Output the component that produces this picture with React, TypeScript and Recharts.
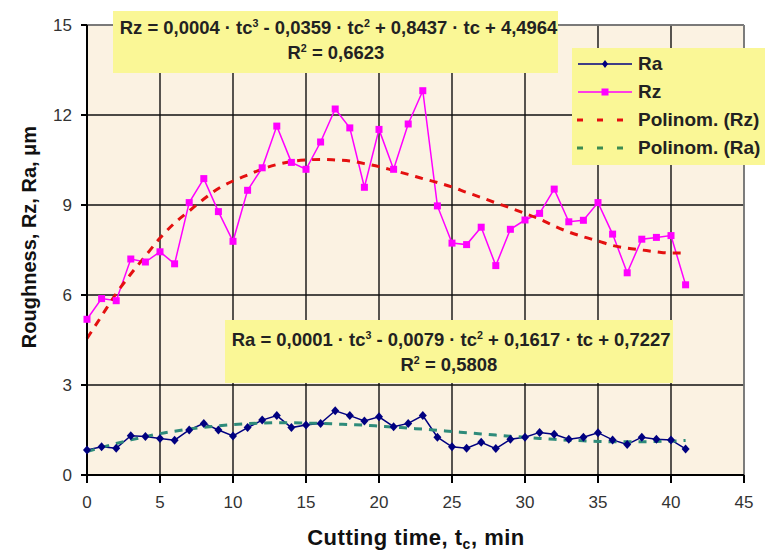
import { ComposedChart, Line, XAxis, YAxis, CartesianGrid, ReferenceLine } from 'recharts';

// cutting time, min
const times = [0,1,2,3,4,5,6,7,8,9,10,11,12,13,14,15,16,17,18,19,20,21,22,23,24,25,26,27,28,29,30,31,32,33,34,35,36,37,38,39,40,41];

const rzValues = [5.19,5.88,5.81,7.2,7.1,7.44,7.04,9.08,9.88,8.78,7.79,9.49,10.24,11.63,10.42,10.19,11.1,12.2,11.57,9.59,11.52,10.19,11.7,12.81,8.97,7.73,7.68,8.26,6.98,8.19,8.5,8.72,9.53,8.44,8.49,9.08,8.03,6.74,7.86,7.92,7.98,6.34];
const raValues = [0.83,0.94,0.89,1.31,1.28,1.22,1.16,1.5,1.72,1.5,1.3,1.58,1.83,1.98,1.58,1.67,1.72,2.14,1.98,1.8,1.94,1.61,1.72,1.98,1.26,0.94,0.89,1.09,0.88,1.19,1.26,1.42,1.36,1.19,1.26,1.41,1.17,1.02,1.26,1.19,1.17,0.87];

// trend curves as they appear in the picture
const rzTrend = [4.55,5.3,6.05,6.7,7.3,7.9,8.4,8.8,9.2,9.55,9.8,10.0,10.2,10.35,10.45,10.5,10.52,10.5,10.47,10.38,10.28,10.15,10.02,9.88,9.75,9.6,9.42,9.25,9.07,8.9,8.72,8.53,8.3,8.1,7.94,7.8,7.65,7.56,7.5,7.44,7.4,7.4];
const raTrend = [0.78,0.92,1.05,1.17,1.28,1.38,1.46,1.53,1.59,1.64,1.68,1.71,1.73,1.74,1.74,1.73,1.72,1.7,1.68,1.66,1.63,1.6,1.56,1.53,1.49,1.45,1.41,1.37,1.33,1.29,1.26,1.22,1.19,1.16,1.14,1.12,1.11,1.11,1.11,1.12,1.13,1.15];

const xTicks = [0,5,10,15,20,25,30,35,40,45];
const yTicks = [0,3,6,9,12,15];

const data = times.map((t, i) => ({
  t,
  Ra: raValues[i],
  Rz: rzValues[i],
  rzFit: rzTrend[i],
  raFit: raTrend[i],
}));

const FONT = '"Liberation Sans", Arial, sans-serif';
const BOX = '#FAF796';
const RZ = '#FF00FF';
const RA = '#000080';
const RZ_FIT = '#E41010';
const RA_FIT = '#2E8B7A';

const SquareDot = (props: any) => {
  const { cx, cy, index } = props;
  if (cx == null || cy == null) return null;
  return <rect key={'s' + index} x={cx - 3.5} y={cy - 3.5} width={7} height={7} fill={RZ} />;
};

const DiamondDot = (props: any) => {
  const { cx, cy, index } = props;
  if (cx == null || cy == null) return null;
  return (
    <polygon
      key={'d' + index}
      points={`${cx},${cy - 4.5} ${cx + 4},${cy} ${cx},${cy + 4.5} ${cx - 4},${cy}`}
      fill={RA}
    />
  );
};

const YTitle = () => (
  <text
    transform="translate(36 237) rotate(-90)"
    textAnchor="middle"
    fontFamily={FONT}
    fontWeight="bold"
    fontSize={20}
    fill="#111"
  >
    Roughness, Rz, Ra, μm
  </text>
);

const XTitle = () => (
  <text x={416} y={545} textAnchor="middle" fontFamily={FONT} fontWeight="bold" fontSize={22} letterSpacing={0.5} fill="#111">
    Cutting time, t<tspan fontSize={14} dy={4}>c</tspan>
    <tspan dy={-4}>, min</tspan>
  </text>
);

const tickStyle = { fill: '#333', fontSize: 17, fontFamily: FONT };

const legendItems = [
  { name: 'Ra', kind: 'ra' },
  { name: 'Rz', kind: 'rz' },
  { name: 'Polinom. (Rz)', kind: 'rzFit' },
  { name: 'Polinom. (Ra)', kind: 'raFit' },
];

const LegendBox = () => (
  <div style={{ position: 'absolute', left: 572, top: 48, background: BOX, width: 193, height: 117, padding: '2px 0 0 3px', boxSizing: 'border-box', fontFamily: FONT }}>
    {legendItems.map((it) => (
      <div key={it.name} style={{ display: 'flex', alignItems: 'center', height: 28, fontWeight: 'bold', fontSize: 19, color: '#222', whiteSpace: 'nowrap' }}>
        <svg width={60} height={14} style={{ marginRight: 3, flex: 'none' }}>
          {it.kind === 'ra' && (
            <>
              <line x1={3} y1={7} x2={57} y2={7} stroke={RA} strokeWidth={1.5} />
              <polygon points="30,3 33,7 30,11 27,7" fill={RA} />
            </>
          )}
          {it.kind === 'rz' && (
            <>
              <line x1={3} y1={7} x2={57} y2={7} stroke={RZ} strokeWidth={1.5} />
              <rect x={26.5} y={3.5} width={7} height={7} fill={RZ} />
            </>
          )}
          {it.kind === 'rzFit' && <line x1={2} y1={7} x2={58} y2={7} stroke={RZ_FIT} strokeWidth={3} strokeDasharray="6 14" />}
          {it.kind === 'raFit' && <line x1={2} y1={7} x2={58} y2={7} stroke="#3C8C50" strokeWidth={3} strokeDasharray="6 14" />}
        </svg>
        {it.name}
      </div>
    ))}
  </div>
);

const eqStyle: any = {
  position: 'absolute',
  background: BOX,
  fontFamily: FONT,
  fontWeight: 'bold',
  fontSize: 19,
  color: '#222',
  textAlign: 'center',
  lineHeight: '25px',
  boxSizing: 'border-box',
  paddingTop: 5,
  whiteSpace: 'nowrap',
};

const sup = { fontSize: 11, verticalAlign: 'super', lineHeight: 0 } as const;

const Eq = ({ children }: any) => (
  <span style={{ display: 'inline-block', transform: 'scaleX(0.97)', transformOrigin: 'center' }}>{children}</span>
);

export default function App() {
  return (
    <div style={{ position: 'absolute', left: 0, top: 0, width: 765, height: 551, background: '#fff' }}>
      <ComposedChart width={765} height={551} data={data} margin={{ top: 25, right: 21, bottom: 36, left: 0 }}>
        <CartesianGrid stroke="#111" strokeWidth={1.4} fill="#FBF2E2" horizontalValues={yTicks} verticalValues={xTicks} />
        <ReferenceLine y={15} stroke="#8a8a8a" strokeWidth={1.5} />
        <ReferenceLine x={45} stroke="#8a8a8a" strokeWidth={1.5} />
        <XAxis
          dataKey="t"
          type="number"
          domain={[0, 45]}
          ticks={xTicks}
          height={40}
          stroke="#000"
          strokeWidth={2}
          tickSize={8}
          tickMargin={13}
          tick={tickStyle}
          label={<XTitle />}
        />
        <YAxis
          type="number"
          domain={[0, 15]}
          ticks={yTicks}
          width={87}
          stroke="#000"
          strokeWidth={2}
          tickSize={6}
          tickMargin={9}
          tick={tickStyle}
          label={<YTitle />}
        />
        <Line dataKey="Rz" stroke={RZ} strokeWidth={1.5} dot={SquareDot} activeDot={false} isAnimationActive={false} />
        <Line dataKey="Ra" stroke={RA} strokeWidth={1.5} dot={DiamondDot} activeDot={false} isAnimationActive={false} />
        <Line dataKey="rzFit" type="monotone" stroke={RZ_FIT} strokeWidth={3} strokeDasharray="8 7" dot={false} activeDot={false} isAnimationActive={false} />
        <Line dataKey="raFit" type="monotone" stroke={RA_FIT} strokeWidth={3} strokeDasharray="8 7" dot={false} activeDot={false} isAnimationActive={false} />
      </ComposedChart>
      <LegendBox />
      <div style={{ ...eqStyle, left: 113, top: 11, width: 445, height: 62, paddingTop: 4 }}>
        <div><Eq>Rz = 0,0004 · tc<span style={sup}>3</span> - 0,0359 · tc<span style={sup}>2</span> + 0,8437 · tc + 4,4964</Eq></div>
        <div><Eq>R<span style={sup}>2</span> = 0,6623</Eq></div>
      </div>
      <div style={{ ...eqStyle, left: 225, top: 320, width: 448, height: 63, paddingTop: 7 }}>
        <div><Eq>Ra = 0,0001 · tc<span style={sup}>3</span> - 0,0079 · tc<span style={sup}>2</span> + 0,1617 · tc + 0,7227</Eq></div>
        <div><Eq>R<span style={sup}>2</span> = 0,5808</Eq></div>
      </div>
    </div>
  );
}
